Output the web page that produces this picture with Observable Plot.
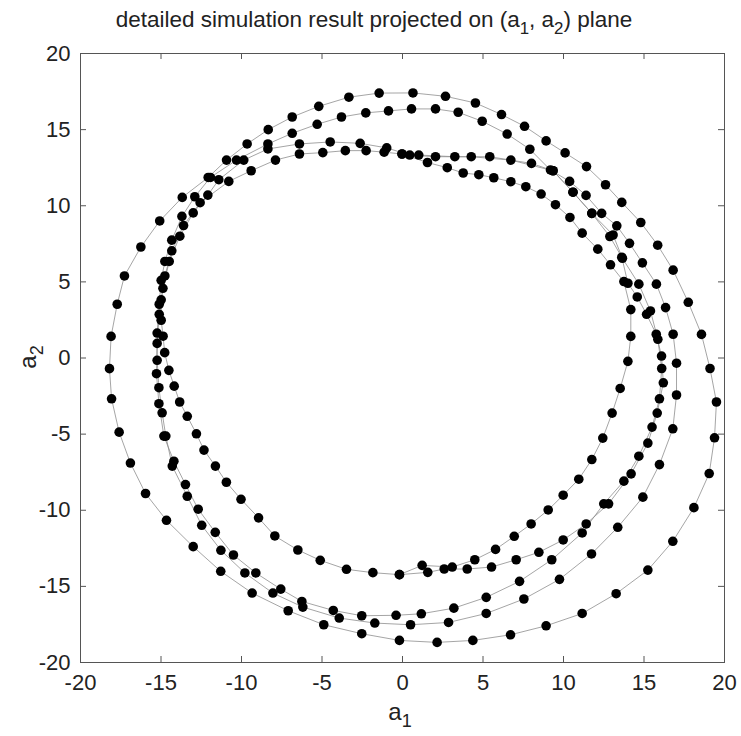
<!DOCTYPE html>
<html><head><meta charset="utf-8">
<script src="https://cdn.jsdelivr.net/npm/d3@7"></script>
<script src="https://cdn.jsdelivr.net/npm/@observablehq/plot@0.6"></script>
<style>body{margin:0;background:#fff}</style>
</head><body><div id="chart"></div>
<script>
// ---- data: (a1, a2) samples of the trajectory, one array per loop ----
const loopA = [[0.65,17.41],[-1.45,17.40],[-3.33,17.13],[-5.20,16.53],[-6.85,15.83],[-8.34,15.00],[-9.65,14.06],[-10.93,13.00],[-12.07,11.86],[-13.68,10.55],[-15.08,9.00],[-16.25,7.29],[-17.27,5.39],[-17.72,3.53],[-18.10,1.42],[-18.20,-0.70],[-18.07,-2.68],[-17.60,-4.87],[-16.90,-6.90],[-15.96,-8.90],[-14.66,-10.66],[-13.00,-12.39],[-11.29,-14.01],[-9.34,-15.44],[-7.10,-16.60],[-4.89,-17.52],[-2.53,-18.11],[-0.19,-18.55],[2.15,-18.68],[4.37,-18.55],[6.71,-18.18],[8.92,-17.59],[11.16,-16.78],[13.27,-15.48],[15.24,-13.93],[16.79,-12.04],[18.10,-9.83],[19.05,-7.59],[19.38,-5.24],[19.50,-2.89],[19.10,-0.69],[18.57,1.55],[17.75,3.66],[16.81,5.77],[15.85,7.41],[14.80,8.90],[13.62,10.22],[12.61,11.38],[11.43,12.57],[10.10,13.47],[8.92,14.26],[7.58,15.22],[6.15,15.99],[4.53,16.75],[2.67,17.19]];
const loopB = [[-8.36,14.06],[-6.85,14.76],[-5.30,15.35],[-3.79,15.83],[-2.28,16.10],[-0.87,16.23],[0.56,16.36],[2.05,16.36],[3.46,16.14],[4.95,15.55],[6.50,14.71],[7.91,13.71],[9.19,12.35],[10.38,11.60],[11.40,10.68],[12.37,9.50],[13.31,8.68],[14.10,7.53],[14.90,6.25],[15.77,4.85],[16.34,3.31],[16.81,1.56],[17.02,-0.34],[17.02,-2.43],[16.79,-4.65],[15.96,-7.00],[14.93,-9.14],[13.37,-11.12],[11.74,-12.87],[9.75,-14.54],[7.54,-15.83],[5.20,-16.78],[2.86,-17.37],[0.50,-17.52],[-1.72,-17.41],[-3.93,-17.08],[-6.19,-16.36],[-8.05,-15.44],[-9.79,-14.12],[-11.28,-12.63],[-12.47,-10.99],[-13.37,-9.08],[-14.30,-7.10],[-14.70,-5.13],[-14.93,-3.60],[-15.13,-1.95],[-15.24,-0.15],[-15.24,1.64],[-15.11,3.53],[-14.99,5.10],[-14.76,6.34],[-14.33,7.74],[-13.70,9.30],[-12.90,10.59],[-11.93,11.86],[-10.31,13.00]];
const loopC = [[-9.86,13.00],[-8.36,13.73],[-6.40,14.06],[-4.49,14.19],[-2.63,14.10],[-0.98,13.80],[0.45,13.33],[2.05,13.22],[4.27,13.22],[6.73,13.00],[9.35,12.30],[10.59,10.89],[11.76,9.50],[13.08,8.08],[13.66,6.55],[14.68,4.85],[15.40,3.09],[15.86,1.23],[16.10,-0.69],[15.96,-2.68],[15.50,-4.54],[14.68,-6.45],[13.75,-8.09],[12.50,-9.58],[11.16,-11.49],[9.27,-13.25],[7.27,-14.67],[5.20,-15.72],[3.19,-16.43],[1.17,-16.80],[-0.40,-16.90],[-2.53,-16.93],[-4.30,-16.58],[-6.25,-15.99],[-7.56,-15.18],[-9.11,-14.12],[-10.50,-12.94],[-11.63,-11.45],[-12.69,-9.93],[-13.48,-8.31],[-14.20,-6.78],[-14.82,-5.13],[-15.13,-3.00],[-15.28,-1.03],[-15.24,0.96],[-15.11,2.87],[-14.88,4.58],[-14.49,6.34],[-13.83,8.00],[-13.00,9.53],[-12.09,10.70],[-11.41,11.71]];
const loopD = [[-6.40,13.40],[-4.95,13.49],[-3.55,13.62],[-2.26,13.62],[-1.14,13.52],[-0.03,13.40],[1.55,12.84],[2.78,12.50],[3.77,12.15],[4.74,12.04],[5.67,11.84],[6.73,11.58],[7.66,11.25],[8.61,10.77],[9.50,10.07],[10.40,9.23],[11.16,8.20],[12.13,7.15],[12.92,6.12],[13.75,5.02],[14.18,3.18],[14.18,1.42],[14.00,-0.22],[13.52,-2.00],[13.02,-3.62],[12.44,-5.26],[11.76,-6.67],[10.95,-7.96],[9.98,-9.01],[9.05,-9.98],[7.99,-10.90],[6.94,-11.71],[5.78,-12.57],[4.49,-13.25],[3.09,-13.73],[1.22,-13.62],[-0.19,-14.23],[-1.84,-14.10],[-3.48,-13.88],[-5.11,-13.29],[-6.50,-12.61],[-7.93,-11.69],[-8.94,-10.50],[-10.03,-9.28],[-10.94,-8.16],[-11.62,-7.10],[-12.33,-6.05],[-12.80,-4.98],[-13.37,-3.83],[-13.84,-2.89],[-14.18,-1.85],[-14.51,-0.81],[-14.77,0.35],[-14.87,1.43],[-14.99,2.48],[-14.99,3.82],[-14.76,5.39],[-14.33,7.04],[-13.60,8.70],[-12.57,10.20],[-10.79,11.60],[-9.40,12.30],[-7.89,13.00]];
const loopE = [[-0.03,13.40],[1.01,13.33],[3.25,13.22],[5.42,13.22],[8.01,12.78],[9.35,12.30],[10.59,10.89],[11.76,9.50],[12.88,7.98],[13.62,6.62],[14.00,4.91],[14.58,4.01],[15.16,2.87],[15.76,1.56],[16.09,0.13],[16.20,-1.63],[15.82,-3.62],[15.24,-5.59],[14.20,-7.61],[12.80,-9.58],[11.41,-10.90],[9.98,-11.95],[8.47,-12.76],[7.06,-13.25],[5.53,-13.73],[4.02,-13.86],[2.59,-13.86],[1.57,-14.08],[-0.19,-14.23]];
const closedLoops = ["A","B","C","D"];
const xTicks = [-20,-15,-10,-5,0,5,10,15,20];
const yTicks = [-20,-15,-10,-5,0,5,10,15,20];
const titleParts = [["detailed simulation result projected on (a",""],["1","sub"],[", a",""],["2","sub"],[") plane",""]];
const xLabelParts = [["a",""],["1","sub"]];
const yLabelParts = [["a",""],["2","sub"]];

// ---- layout / style ----
const W = 741, H = 736;
const M = {top: 53, right: 17, bottom: 74, left: 80};
const FONT = "'Liberation Sans', Arial, sans-serif";
const tickPx = 6;
const kx = (W - M.left - M.right) / 40, ky = (H - M.top - M.bottom) / 40;

const loops = {A: loopA, B: loopB, C: loopC, D: loopD, E: loopE};
const dots = Object.entries(loops).flatMap(([k, pts]) => pts.map(([a1, a2]) => ({loop: k, a1, a2})));
const path = Object.entries(loops).flatMap(([k, pts]) => {
  const p = closedLoops.includes(k) ? [...pts, pts[0]] : pts;
  return p.map(([a1, a2]) => ({loop: k, a1, a2}));
});

const plot = Plot.plot({
  width: W, height: H,
  marginTop: M.top, marginRight: M.right, marginBottom: M.bottom, marginLeft: M.left,
  style: {fontFamily: FONT, fontSize: "22px", background: "#fff", color: "#222"},
  x: {domain: [-20, 20], label: null},
  y: {domain: [-20, 20], label: null},
  marks: [
    Plot.line(path, {x: "a1", y: "a2", z: "loop", stroke: "#8e8e8e", strokeWidth: 0.8}),
    Plot.dot(dots, {x: "a1", y: "a2", r: 4.8, fill: "#000", stroke: "none"}),
    Plot.frame({stroke: "#555", strokeWidth: 1}),
    Plot.ruleX(xTicks, {x: d => d, y1: -20, y2: -20 + tickPx / ky, stroke: "#555"}),
    Plot.ruleX(xTicks, {x: d => d, y1: 20, y2: 20 - tickPx / ky, stroke: "#555"}),
    Plot.ruleY(yTicks, {y: d => d, x1: -20, x2: -20 + tickPx / kx, stroke: "#555"}),
    Plot.ruleY(yTicks, {y: d => d, x1: 20, x2: 20 - tickPx / kx, stroke: "#555"}),
    Plot.axisX(xTicks, {tickSize: 0, tickPadding: 12, fontSize: 22, label: null, fill: "#222", tickFormat: d => String(d)}),
    Plot.axisY(yTicks, {tickSize: 0, tickPadding: 10, fontSize: 22, label: null, fill: "#222", tickFormat: d => String(d)})
  ]
});
document.getElementById("chart").appendChild(plot);

function richText(sel, parts, size) {
  parts.forEach(([t, kind], i) => {
    const ts = sel.append("tspan").text(t);
    if (kind === "sub") ts.attr("font-size", size * 0.75).attr("dy", size * 0.3);
    else if (i > 0 && parts[i - 1][1] === "sub") ts.attr("dy", -size * 0.3);
  });
}
const svg = d3.select(plot);
const t = svg.append("text").attr("x", 374).attr("y", 27).attr("text-anchor", "middle")
  .attr("font-family", FONT).attr("font-size", 22.5).attr("fill", "#222");
richText(t, titleParts, 22.5);
const xl = svg.append("text").attr("x", 400).attr("y", 720).attr("text-anchor", "middle")
  .attr("font-family", FONT).attr("font-size", 24).attr("fill", "#222");
richText(xl, xLabelParts, 24);
const yl = svg.append("text").attr("transform", "translate(36,357) rotate(-90)").attr("text-anchor", "middle")
  .attr("font-family", FONT).attr("font-size", 24).attr("fill", "#222");
richText(yl, yLabelParts, 24);
</script>
</body></html>
